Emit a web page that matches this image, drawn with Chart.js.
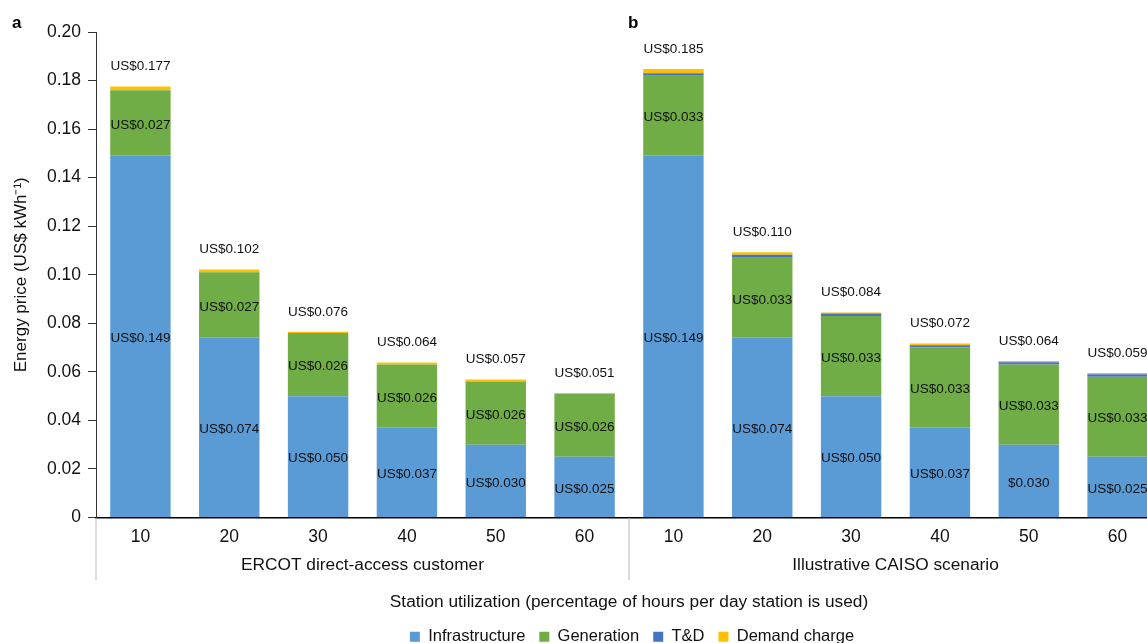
<!DOCTYPE html>
<html>
<head>
<meta charset="utf-8">
<script src="https://cdn.jsdelivr.net/npm/chart.js@4.4.0/dist/chart.umd.min.js"></script>
<style>
  html, body { margin: 0; padding: 0; background: #fff; overflow: hidden; }
  #wrap { width: 1264px; height: 643px; }
</style>
</head>
<body>
<div id="wrap"><canvas id="c" width="1264" height="643"></canvas></div>
<script>
// ---- Data ----
const categories = ['10', '20', '30', '40', '50', '60', '10', '20', '30', '40', '50', '60'];
const groups = ['ERCOT direct-access customer', 'Illustrative CAISO scenario'];
const infrastructure = [0.149, 0.074, 0.050, 0.037, 0.030, 0.025, 0.149, 0.074, 0.050, 0.037, 0.030, 0.025];
const generation = [0.027, 0.027, 0.026, 0.026, 0.026, 0.026, 0.033, 0.033, 0.033, 0.033, 0.033, 0.033];
const tnd = [0, 0, 0, 0, 0, 0, 0.001, 0.0012, 0.001, 0.001, 0.001, 0.001];
const demandCharge = [0.0016, 0.0012, 0.0005, 0.0009, 0.0008, 0.0003, 0.0018, 0.0011, 0.0005, 0.0007, 0.0005, 0.0005];
const infraLabels = ['US$0.149', 'US$0.074', 'US$0.050', 'US$0.037', 'US$0.030', 'US$0.025', 'US$0.149', 'US$0.074', 'US$0.050', 'US$0.037', '$0.030', 'US$0.025'];
const genLabels = ['US$0.027', 'US$0.027', 'US$0.026', 'US$0.026', 'US$0.026', 'US$0.026', 'US$0.033', 'US$0.033', 'US$0.033', 'US$0.033', 'US$0.033', 'US$0.033'];
const totalLabels = ['US$0.177', 'US$0.102', 'US$0.076', 'US$0.064', 'US$0.057', 'US$0.051', 'US$0.185', 'US$0.110', 'US$0.084', 'US$0.072', 'US$0.064', 'US$0.059'];
const yTicks = [0, 0.02, 0.04, 0.06, 0.08, 0.10, 0.12, 0.14, 0.16, 0.18, 0.20];
const panelLetters = ['a', 'b'];

const FONT = "'Liberation Sans', Arial, Helvetica, sans-serif";

const labelPlugin = {
  id: 'labels',
  afterDatasetsDraw(chart) {
    const ctx = chart.ctx;
    ctx.save();
    ctx.font = '13.5px ' + FONT;
    ctx.fillStyle = '#111';
    ctx.textAlign = 'center';
    ctx.textBaseline = 'middle';
    const m0 = chart.getDatasetMeta(0), m1 = chart.getDatasetMeta(1), m3 = chart.getDatasetMeta(3);
    for (let i = 0; i < categories.length; i++) {
      const a = m0.data[i], b = m1.data[i], d = m3.data[i];
      ctx.fillText(infraLabels[i], a.x, (a.y + a.base) / 2 + 2);
      ctx.fillText(genLabels[i], b.x, (b.y + b.base) / 2 + 2);
      ctx.fillText(totalLabels[i], d.x, d.y - 20);
    }
    ctx.restore();
  },
  afterDraw(chart) {
    const ctx = chart.ctx;
    const xs = chart.scales.x;
    const area = chart.chartArea;
    ctx.save();
    // group separators
    const mid = (xs.getPixelForValue(5) + xs.getPixelForValue(6)) / 2;
    ctx.strokeStyle = '#d0d0d0';
    ctx.lineWidth = 1.5;
    [area.left, mid].forEach(px => {
      ctx.beginPath();
      ctx.moveTo(px, area.bottom + 1);
      ctx.lineTo(px, 580);
      ctx.stroke();
    });
    // panel letters
    ctx.fillStyle = '#000';
    ctx.font = 'bold 17px ' + FONT;
    ctx.textAlign = 'left';
    ctx.textBaseline = 'alphabetic';
    ctx.fillText(panelLetters[0], 12, 28);
    ctx.fillText(panelLetters[1], mid - 1, 28);
    ctx.restore();
  }
};

new Chart(document.getElementById('c'), {
  type: 'bar',
  data: {
    labels: categories,
    datasets: [
      { label: 'Infrastructure', data: infrastructure, backgroundColor: '#5B9BD5' },
      { label: 'Generation', data: generation, backgroundColor: '#70AD47' },
      { label: 'T&D', data: tnd, backgroundColor: '#4472C4' },
      { label: 'Demand charge', data: demandCharge, backgroundColor: '#FFC000' }
    ]
  },
  options: {
    responsive: false,
    animation: false,
    devicePixelRatio: 1,
    layout: { padding: { top: 32, left: 0, right: 0, bottom: -12 } },
    datasets: { bar: { barPercentage: 0.68, categoryPercentage: 1.0, borderWidth: 0 } },
    plugins: {
      legend: {
        position: 'bottom',
        labels: {
          boxWidth: 10, boxHeight: 10, padding: 14,
          color: '#111',
          font: { family: FONT, size: 16.5 }
        }
      },
      tooltip: { enabled: false },
      title: { display: false }
    },
    scales: {
      x: {
        stacked: true,
        weight: 0,
        grid: { display: false, drawTicks: false, tickLength: 0 },
        border: { display: true, color: '#000', width: 1.5 },
        ticks: { color: '#111', padding: 9, font: { family: FONT, size: 17.5 }, maxRotation: 0, autoSkip: false },
        afterFit(s) { s.height = 32; }
      },
      x2: {
        type: 'category',
        labels: groups,
        position: 'bottom',
        weight: 1,
        offset: true,
        grid: { display: false, drawTicks: false, tickLength: 0 },
        border: { display: false },
        ticks: { color: '#111', padding: 5, font: { family: FONT, size: 17.3 } },
        title: {
          display: true,
          text: 'Station utilization (percentage of hours per day station is used)',
          color: '#111',
          font: { family: FONT, size: 17.3 },
          padding: { top: 16, bottom: 2 }
        },
        afterFit(s) { s.height = 65; }
      },
      y: {
        stacked: true,
        min: 0, max: 0.2,
        afterBuildTicks(s) { s.ticks = yTicks.map(v => ({ value: v })); },
        grid: { drawOnChartArea: false, drawTicks: true, tickLength: 8, color: '#333' },
        border: { display: true, color: '#333', width: 1 },
        ticks: {
          color: '#111', padding: 7,
          font: { family: FONT, size: 17.5 },
          callback: v => v === 0 ? '0' : v.toFixed(2)
        },
        title: {
          display: true,
          text: 'Energy price (US$ kWh\u207B\u00B9)',
          color: '#111',
          font: { family: FONT, size: 17 },
          padding: { top: 11, bottom: 0 }
        },
        afterFit(s) { s.width = 96; }
      },
      yR: {
        position: 'right',
        display: true,
        grid: { display: false },
        border: { display: false },
        ticks: { display: false },
        afterFit(s) { s.width = 102; }
      }
    }
  },
  plugins: [labelPlugin]
});
</script>
</body>
</html>
